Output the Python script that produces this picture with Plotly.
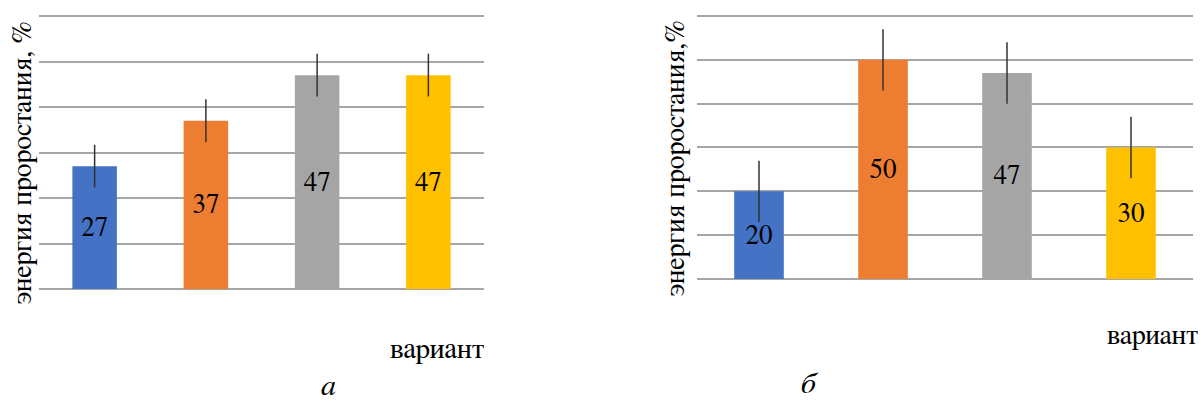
import plotly.graph_objects as go

categories = ["1", "2", "3", "4"]
values_a = [27, 37, 47, 47]
errors_a = [4.7, 4.7, 4.7, 4.7]
values_b = [20, 50, 47, 30]
errors_b = [7, 7, 7, 7]
colors = ["#4472C4", "#ED7D31", "#A5A5A5", "#FFC000"]
ytitle_a = "энергия проростания, %"
ytitle_b = "энергия проростания,%"
xtitle = "вариант"
panel_labels = ["а", "б"]

W, H = 1201, 403
FONT = "FreeSerif"

fig = go.Figure()

def add_bars(vals, errs, xa, ya):
    fig.add_trace(go.Bar(
        x=categories, y=vals, xaxis=xa, yaxis=ya,
        marker=dict(color=colors, line=dict(width=0)),
        width=0.4,
        text=[str(v) for v in vals],
        textposition="inside", insidetextanchor="middle", textangle=0,
        textfont=dict(family=FONT, size=27, color="black"),
        constraintext="none",
        error_y=dict(type="data", array=errs, visible=True, width=0,
                     thickness=1.5, color="#333333"),
        showlegend=False, hoverinfo="skip",
    ))

add_bars(values_a, errors_a, "x", "y")
add_bars(values_b, errors_b, "x2", "y2")

YMAX = 61
grid = dict(showgrid=True, gridcolor="#A6A6A6", gridwidth=1.5,
            zeroline=True, zerolinecolor="#A6A6A6", zerolinewidth=1.5,
            showticklabels=False, ticks="", showline=False,
            range=[0, YMAX], dtick=10, tick0=0, fixedrange=True)
xcommon = dict(showgrid=False, zeroline=False, showticklabels=False,
               ticks="", showline=False, fixedrange=True)

a_bot, a_top = 289, 16
b_bot, b_top = 279, 16
a_top_ext = a_top - (a_bot - a_top) / 60 * (YMAX - 60)
b_top_ext = b_top - (b_bot - b_top) / 60 * (YMAX - 60)

fig.update_layout(
    width=W, height=H,
    margin=dict(l=0, r=0, t=0, b=0),
    paper_bgcolor="white", plot_bgcolor="white",
    bargap=0.6,
    font=dict(family=FONT, color="black"),
    xaxis=dict(domain=[39 / W, 484 / W], anchor="y", **xcommon),
    yaxis=dict(domain=[1 - a_bot / H, 1 - a_top_ext / H], anchor="x", **grid),
    xaxis2=dict(domain=[697 / W, 1193 / W], anchor="y2", **xcommon),
    yaxis2=dict(domain=[1 - b_bot / H, 1 - b_top_ext / H], anchor="x2", **grid),
)

ann = []
ann.append(dict(text=ytitle_a, x=23 / W, y=1 - 163 / H, xref="paper", yref="paper",
                textangle=-90, showarrow=False, font=dict(size=28, family=FONT, color="black"),
                xanchor="center", yanchor="middle"))
ann.append(dict(text=ytitle_b, x=676 / W, y=1 - 158 / H, xref="paper", yref="paper",
                textangle=-90, showarrow=False, font=dict(size=28, family=FONT, color="black"),
                xanchor="center", yanchor="middle"))
ann.append(dict(text=xtitle, x=437 / W, y=1 - 349 / H, xref="paper", yref="paper",
                showarrow=False, font=dict(size=29, family=FONT, color="black"),
                xanchor="center", yanchor="middle"))
ann.append(dict(text=xtitle, x=1152 / W, y=1 - 336 / H, xref="paper", yref="paper",
                showarrow=False, font=dict(size=28, family=FONT, color="black"),
                xanchor="center", yanchor="middle"))
ann.append(dict(text="<i>" + panel_labels[0] + "</i>", x=328 / W, y=0,
                xref="paper", yref="paper", showarrow=False,
                font=dict(size=30, family=FONT, color="black"), xanchor="center", yanchor="bottom"))
ann.append(dict(text="<i>" + panel_labels[1] + "</i>", x=810 / W, y=0, yshift=2,
                xref="paper", yref="paper", showarrow=False,
                font=dict(size=30, family=FONT, color="black"), xanchor="center", yanchor="bottom"))
fig.update_layout(annotations=ann)

fig.write_html("out.html")
